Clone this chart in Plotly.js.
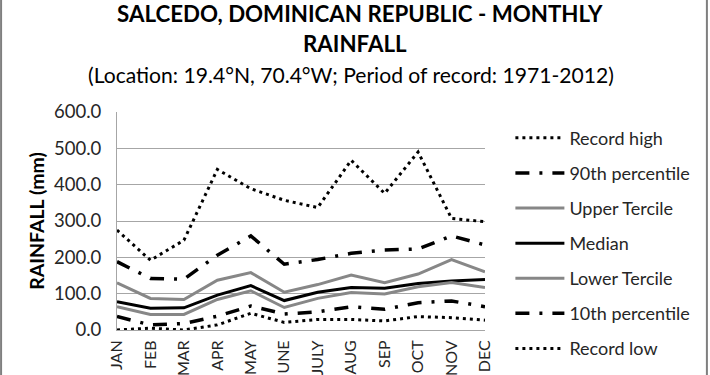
<!DOCTYPE html>
<html>
<head>
<meta charset="utf-8">
<script src="https://cdn.plot.ly/plotly-3.0.1.min.js"></script>
<style>html,body{margin:0;padding:0;background:#fff;}#chart{width:710px;height:375px;}</style>
</head>
<body>
<div id="chart"></div>
<script>
const months = ["JAN","FEB","MAR","APR","MAY","JUNE","JULY","AUG","SEP","OCT","NOV","DEC"];
const recordHigh = [275, 192, 247, 442, 389, 357, 337, 467, 376, 490, 307, 298];
const pct90      = [188, 142, 140, 206, 259, 181, 194, 211, 220, 223, 259, 234];
const upperTerc  = [130, 87, 84, 137, 158, 104, 125, 151, 130, 154, 194, 160];
const median     = [78, 60, 61, 96, 122, 81, 104, 117, 115, 128, 135, 139];
const lowerTerc  = [64, 43, 43, 84, 108, 62, 87, 103, 99, 119, 131, 117];
const pct10      = [37, 14, 18, 38, 66, 44, 50, 64, 57, 75, 80, 64];
const recordLow  = [0, 5, 0, 14, 46, 21, 29, 29, 25, 37, 34, 27];

const FONT = "Lato, 'Open Sans', sans-serif";
const GRAY = "#878787";
const dotDash = "3px,4px";
const longDashDot = "14px,10px,3px,10px";

function tr(name, y, color, width, dash, g) {
  return {type:"scatter", mode:"lines", name:name, x:months, y:y,
    line:{color:color, width:width, dash:dash}, legendgroup:g, hoverinfo:"skip"};
}
const data = [
  tr("Record high", recordHigh, "#000", 3, dotDash, "a"),
  tr("90th percentile", pct90, "#000", 3.5, longDashDot, "b"),
  tr("Upper Tercile", upperTerc, GRAY, 3, "solid", "c"),
  tr("Median", median, "#000", 3, "solid", "d"),
  tr("Lower Tercile", lowerTerc, GRAY, 3, "solid", "e"),
  tr("10th percentile", pct10, "#000", 3.5, longDashDot, "f"),
  tr("Record low", recordLow, "#000", 3, dotDash, "g")
];

const layout = {
  width:710, height:375,
  margin:{l:117, r:225, t:112, b:45, pad:0, autoexpand:false},
  paper_bgcolor:"#fff", plot_bgcolor:"#fff",
  font:{family:FONT, size:15, color:"#262626"},
  showlegend:true,
  legend:{x:1.069, xanchor:"left", y:0.965, yanchor:"top", traceorder:"grouped",
    tracegroupgap:8.7, itemwidth:49, maxheight:375, font:{family:FONT, size:18, color:"#262626"}, bgcolor:"rgba(0,0,0,0)"},
  xaxis:{type:"category", tickangle:-90, showgrid:false, showline:true, linecolor:"#a6a6a6", linewidth:1,
    ticks:"", ticklabelstandoff:3, tickfont:{family:FONT, size:16, color:"#262626"}, fixedrange:true, automargin:false},
  yaxis:{range:[0,600], dtick:100, tickformat:".1f", showgrid:true, gridcolor:"#a6a6a6", gridwidth:1,
    showline:true, linecolor:"#a6a6a6", linewidth:1, zeroline:false, ticks:"", ticklabelstandoff:11,
    tickfont:{family:FONT, size:18.5, color:"#262626"}, automargin:false,
    title:{text:"<b>RAINFALL (mm)</b>", font:{family:FONT, size:19.5, color:"#000"}, standoff:4}, fixedrange:true},
  annotations:[
    {text:"<b>SALCEDO, DOMINICAN REPUBLIC - MONTHLY</b>", xref:"paper", yref:"paper", x:0.66, y:1.454,
      xanchor:"center", yanchor:"middle", showarrow:false, font:{family:FONT, size:22.3, color:"#000"}},
    {text:"<b>RAINFALL</b>", xref:"paper", yref:"paper", x:0.647, y:1.312,
      xanchor:"center", yanchor:"middle", showarrow:false, font:{family:FONT, size:22.3, color:"#000"}},
    {text:"(Location: 19.4°N, 70.4°W; Period of record: 1971-2012)", xref:"paper", yref:"paper", x:0.637, y:1.170,
      xanchor:"center", yanchor:"middle", showarrow:false, font:{family:FONT, size:21.1, color:"#000"}}
  ],
  shapes:[
    {type:"line", xref:"paper", yref:"paper", x0:-0.315, x1:-0.315, y0:-0.3, y1:1.6, line:{color:"#7f7f7f", width:2}},
    {type:"line", xref:"paper", yref:"paper", x0:1.603, x1:1.603, y0:-0.3, y1:1.6, line:{color:"#7f7f7f", width:2}}
  ]
};
Plotly.newPlot("chart", data, layout, {displayModeBar:false, staticPlot:true});
</script>
</body>
</html>
